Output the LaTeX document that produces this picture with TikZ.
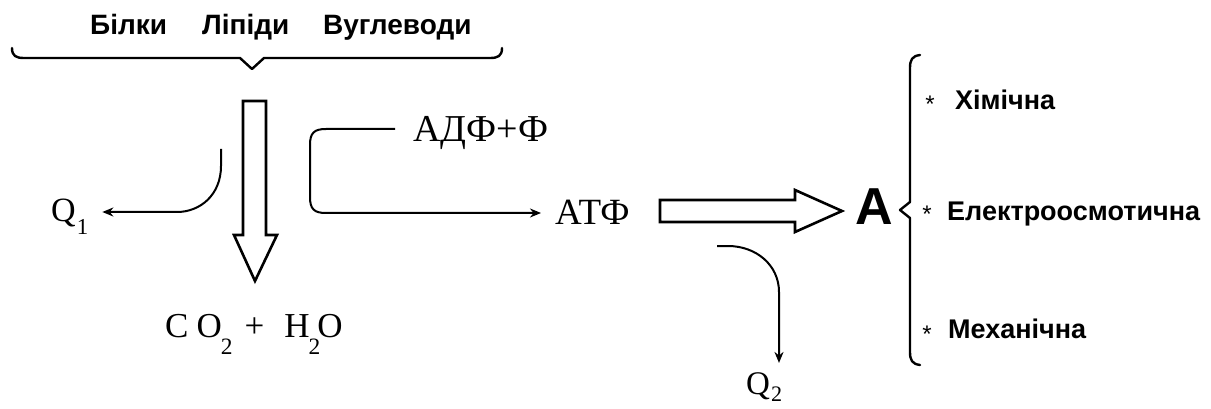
\documentclass[tikz,border=0pt]{standalone}
\usepackage{fontspec}
\setmainfont{Liberation Serif}
\newfontfamily\sansb[BoldFont={Liberation Sans Bold}]{Liberation Sans}
\usetikzlibrary{arrows.meta}
\newcommand{\lowsub}[2][0.5em]{\raisebox{-#1}{\scalebox{0.67}{#2}}}
\begin{document}
\begin{tikzpicture}[x=1pt,y=-1pt,
  lbl/.style={inner sep=0pt,anchor=base west,font=\sansb\bfseries\fontsize{28}{28}\selectfont},
  item/.style={inner sep=0pt,anchor=base west,font=\sansb\bfseries\fontsize{27}{27}\selectfont},
  chem/.style={inner sep=0pt,anchor=base west,font=\fontsize{37}{37}\selectfont},
  conn/.style={line width=2pt,-{Stealth[length=11pt,width=9pt]}},
  hollow/.style={line width=2.6pt,line join=miter,fill=white},
  brace/.style={line width=2.4pt,line cap=round,line join=round},
  star/.style={inner sep=0pt,font=\sansb\fontsize{24}{24}\selectfont}]
\useasboundingbox (0,0) rectangle (1211,409);
% top labels
\node[lbl] (b) at (90,35) {Білки};
\node[lbl] (l) at (202,35) {Ліпіди};
\node[lbl] (v) at (323,35) {Вуглеводи};
% top brace
\draw[brace] (12,48) .. controls (12,56) and (16,58) .. (24,58) -- (240,58) -- (252,69) -- (264,58) -- (490,58) .. controls (498,58) and (502,56) .. (502,48);
% hollow down arrow
\draw[hollow] (243,101) -- (266,101) -- (266,235) -- (277,235) -- (255,281) -- (234,235) -- (243,235) -- cycle;
% Q1
\node[chem,font=\fontsize{34}{34}\selectfont] (q1) at (51,222) {Q\hspace{1pt}\lowsub[0.38em]{1}};
\coordinate (q1s) at (221,149);
\draw[conn] (q1s) -- (221,166) .. controls (221,195) and (200,212) .. (177,212) -- ([xshift=14pt]q1.east |- 0,212);
% CO2 + H2O
\node[chem,font=\fontsize{35}{35}\selectfont] (co) at (165,337) {C\hspace{8pt}O\hspace{-1pt}\lowsub{2}\hspace{12pt}+\hspace{20pt}H\hspace{-1pt}\lowsub{2}\hspace{-3pt}O};
% ADF+F and ATF
\node[chem,font=\fontsize{38}{38}\selectfont] (adf) at (413,142) {АДФ+Ф};
\node[chem] (atf) at (555,225) {АТФ};
\coordinate (adfs) at (395,129);
\draw[conn] (adfs) -- (326,129) .. controls (314,129) and (310,133) .. (310,145) -- (310,197) .. controls (310,209) and (314,213) .. (326,213) -- ([xshift=-14pt]atf.west |- 0,213);
% hollow right arrow
\draw[hollow] (660,200) -- (795,200) -- (795,190) -- (842,211) -- (795,232) -- (795,222) -- (660,222) -- cycle;
% A
\node[inner sep=0pt,anchor=base west,font=\sansb\bfseries\fontsize{52}{52}\selectfont] (a) at (855,225) {A};
% Q2
\node[chem,font=\fontsize{33}{33}\selectfont] (q2) at (746,394) {Q\hspace{1pt}\lowsub[0.22em]{2}};
\coordinate (q2s) at (717,246);
\draw[conn] (q2s) -- (728,246) .. controls (756,246) and (779,265) .. (779,292) -- ([yshift=9pt]q2.north -| 779,0);
% right brace
\draw[brace] (920,55) .. controls (912,56) and (910,60) .. (910,68) -- (910,202) -- (900,210) -- (910,218) -- (910,352) .. controls (910,360) and (912,364) .. (920,365);
% items
\node[star] (s1) at (930,104) {*};
\node[item] (h) at (955,110) {Хімічна};
\node[star] (s2) at (927,214) {*};
\node[item] (e) at (947,220) {Електроосмотична};
\node[star] (s3) at (927,334) {*};
\node[item] (m) at (948,338) {Механічна};
\end{tikzpicture}
\end{document}
